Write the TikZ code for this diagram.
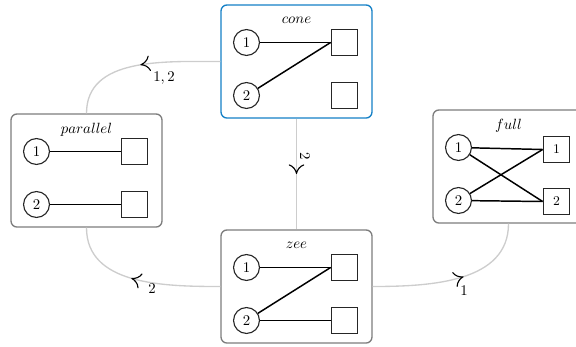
\documentclass[tikz,border=0pt]{standalone}
\usetikzlibrary{arrows.meta,decorations.markings}
\definecolor{boxgray}{RGB}{125,125,125}
\definecolor{boxblue}{RGB}{20,128,198}
\definecolor{edgegray}{RGB}{205,205,205}
\begin{document}
\begin{tikzpicture}[x=0.675pt,y=-0.675pt,
  frame/.style={draw=boxgray, line width=0.9pt, rounded corners=4pt, minimum width=101.9pt, minimum height=76.3pt, inner sep=0pt},
  obj/.style={circle, draw=black!85, line width=0.75pt, minimum size=17.5pt, inner sep=0pt},
  tgt/.style={rectangle, draw=black!85, line width=0.75pt, minimum size=18pt, inner sep=0pt, font=\small},
  wire/.style={line width=1pt},
  title/.style={inner sep=0pt},
  lab/.style={inner sep=0pt},
  mk/.style={decoration={markings, mark=at position #1 with {\arrow[black]{Computer Modern Rightarrow[length=6.5pt,width=10.5pt,line width=0.75pt]}}}},
  edge/.style={draw=edgegray, line width=0.9pt, postaction={decorate}}
]
\useasboundingbox (0,0) rectangle (576,346);

\node[frame, draw=boxblue] (cone) at (296.5,61.5) {};
\node[frame] (parallel) at (86.5,170.5) {};
\node[frame] (full) at (508.5,166.5) {};
\node[frame] (zee) at (296.5,286.5) {};

% edges
\draw[edge, mk=0.5] (cone.west) to[out=180,in=90] (parallel.north);
\draw[edge, mk=0.5] (cone.south) -- (zee.north);
\draw[edge, mk=0.55] (zee.west) to[out=180,in=-90] (parallel.south);
\draw[edge, mk=0.55] (zee.east) to[out=0,in=-90] (full.south);

\node[lab] (l12) at (164,78) {$1,2$};
\node[lab, rotate=-90] (l2a) at (305,156) {$2$};
\node[lab] (l2b) at (152,289) {$2$};
\node[lab] (l1) at (464,291) {$1$};

% contents
\foreach \b in {cone,parallel,full,zee} {
  \path (\b.center) ++(0,-41) node[title] (\b-t) {$\b$};
  \path (\b.center) ++(-50,-19) node[obj] (\b-a) {1};
  \path (\b.center) ++(-50,34) node[obj] (\b-b) {2};
}
\path (cone.center) ++(48,-19) node[tgt] (cone-x) {};
\path (cone.center) ++(48,34) node[tgt] (cone-y) {};
\path (parallel.center) ++(48,-19) node[tgt] (parallel-x) {};
\path (parallel.center) ++(48,34) node[tgt] (parallel-y) {};
\path (zee.center) ++(48,-19) node[tgt] (zee-x) {};
\path (zee.center) ++(48,34) node[tgt] (zee-y) {};
\path (full.center) ++(48,-17) node[tgt] (full-x) {1};
\path (full.center) ++(48,35) node[tgt] (full-y) {2};

\draw[wire] (parallel-a) -- (parallel-x.west);
\draw[wire] (parallel-b) -- (parallel-y.west);
\draw[wire] (cone-a) -- (cone-x.west);
\draw[wire] (cone-b) -- (cone-x.west);
\draw[wire] (zee-a) -- (zee-x.west);
\draw[wire] (zee-b) -- (zee-x.west);
\draw[wire] (zee-b) -- (zee-y.west);
\draw[wire] (full-a) -- (full-x.west);
\draw[wire] (full-a) -- (full-y.west);
\draw[wire] (full-b) -- (full-x.west);
\draw[wire] (full-b) -- (full-y.west);
\end{tikzpicture}
\end{document}
